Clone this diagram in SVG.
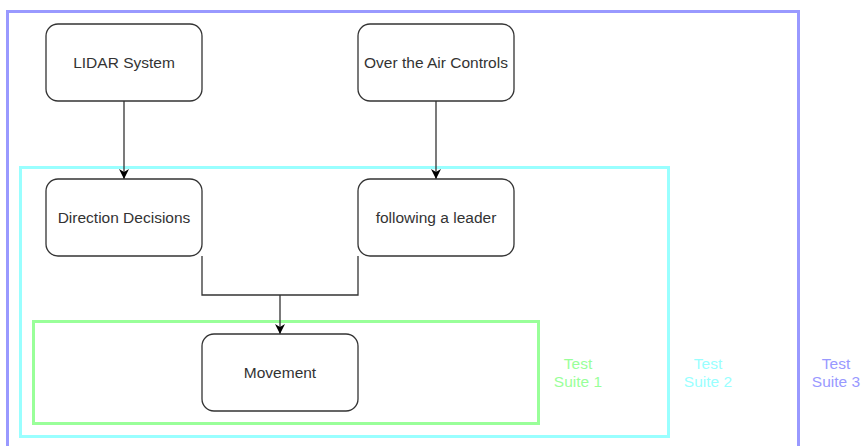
<svg xmlns="http://www.w3.org/2000/svg" width="864" height="446" viewBox="0 0 864 446">
<style>
.node rect{fill:#fff;stroke:#333;stroke-width:1.3}
.node text{font-family:"Liberation Sans",Arial,sans-serif;font-size:15.5px;fill:#333;text-anchor:middle;dominant-baseline:central}
.suite{fill:none;stroke-width:3}
.lbl{font-family:"Liberation Sans",Arial,sans-serif;font-size:15.5px;text-anchor:middle}
.conn path{fill:none;stroke:#333;stroke-width:1.3}
</style>
<defs>
<marker id="arr" viewBox="0 0 10 10" refX="10" refY="5" markerWidth="10" markerHeight="10" orient="auto" markerUnits="userSpaceOnUse">
<path d="M0,0 L10,5 L0,10 L3,5 Z" fill="#000"/>
</marker>
</defs>
<rect width="864" height="446" fill="#fff"/>
<g id="suite3"><rect class="suite" x="7.5" y="11.5" width="791" height="460" stroke="#9999FF"/>
<text class="lbl" fill="#9999FF"><tspan x="836" y="369">Test</tspan><tspan x="836" y="387">Suite 3</tspan></text></g>
<g id="suite2"><rect class="suite" x="20.5" y="167.5" width="648" height="269" stroke="#99FFFF"/>
<text class="lbl" fill="#99FFFF"><tspan x="708" y="369">Test</tspan><tspan x="708" y="387">Suite 2</tspan></text></g>
<g id="suite1"><rect class="suite" x="33.5" y="321.5" width="505" height="102" stroke="#99FF99"/>
<text class="lbl" fill="#99FF99"><tspan x="578" y="369">Test</tspan><tspan x="578" y="387">Suite 1</tspan></text></g>
<g class="conn" id="connectors">
<path d="M124,101 V179" marker-end="url(#arr)"/>
<path d="M436,101 V179" marker-end="url(#arr)"/>
<path d="M202,256 V295 H358 V256"/>
<path d="M280,295 V334" marker-end="url(#arr)"/>
</g>
<g class="node" id="lidar"><rect x="46" y="24" width="156" height="77" rx="12"/><text x="124" y="62">LIDAR System</text></g>
<g class="node" id="ota"><rect x="358" y="24" width="156" height="77" rx="12"/><text x="436" y="62">Over the Air Controls</text></g>
<g class="node" id="direction"><rect x="46" y="179" width="156" height="77" rx="12"/><text x="124" y="217">Direction Decisions</text></g>
<g class="node" id="leader"><rect x="358" y="179" width="156" height="77" rx="12"/><text x="436" y="217">following a leader</text></g>
<g class="node" id="movement"><rect x="202" y="334" width="156" height="77" rx="12"/><text x="280" y="372">Movement</text></g>
</svg>
